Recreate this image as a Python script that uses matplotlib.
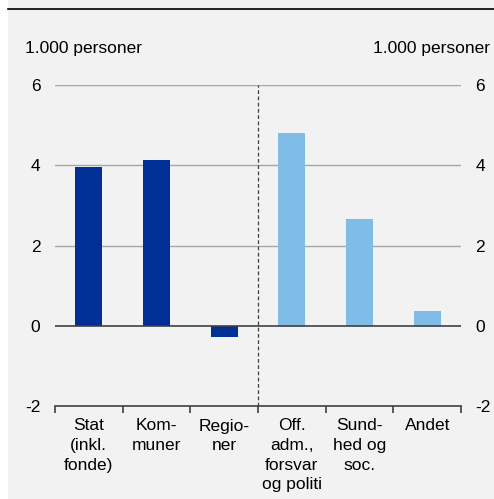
import numpy as np
import matplotlib.pyplot as plt

plt.rcParams['font.family'] = ['Liberation Sans', 'DejaVu Sans']

# ændring i beskæftigelse, 1.000 personer
categories = ["Stat\n(inkl.\nfonde)", "Kom-\nmuner", "Regio-\nner",
              "Off.\nadm.,\nforsvar\nog politi", "Sund-\nhed og\nsoc.", "Andet"]
values = [3.96, 4.12, -0.28, 4.81, 2.67, 0.38]
colors = ["#002f96", "#002f96", "#002f96", "#80bce8", "#80bce8", "#80bce8"]
yticks = [-2, 0, 2, 4, 6]

bg = "#f2f2f2"
fig = plt.figure(figsize=(4.94, 4.99), dpi=100, facecolor="white")
fig.patches.append(plt.Rectangle((8 / 494, 0), 1, 1, transform=fig.transFigure,
                                 facecolor=bg, edgecolor="none", zorder=-1))
# sort linje øverst
fig.add_artist(plt.Line2D([8 / 494, 1], [1 - 9 / 499, 1 - 9 / 499],
                          transform=fig.transFigure, color="black", lw=1.2))

ax = fig.add_axes([55 / 494, 1 - 406 / 499, 406 / 494, 321 / 499])
ax.set_facecolor(bg)

x = np.arange(len(values))
ax.bar(x, values, width=0.4, color=colors, zorder=3)

ax.set_xlim(-0.5, len(values) - 0.5)
ax.set_ylim(-2, 6)
ax.set_yticks(yticks)
ax.set_yticklabels([str(t) for t in yticks])
for t in [2, 4, 6]:
    ax.axhline(t, color="#a6a6a6", lw=1, zorder=1)
ax.axhline(0, color="#404040", lw=1.2, zorder=4)
ax.axvline(2.5, color="#404040", lw=0.9, ls=(0, (3, 2)), zorder=2)

for s in ["top", "right", "left"]:
    ax.spines[s].set_visible(False)
ax.spines["bottom"].set_color("#404040")
ax.spines["bottom"].set_linewidth(1.2)

ax.tick_params(axis="y", length=0, labelsize=12.5, pad=10.5,
               labelleft=True, labelright=True)
ax.set_xticks(x)
ax.set_xticklabels(categories, fontsize=12.5, linespacing=1.38, va="top")
ax.tick_params(axis="x", length=0, pad=9)
ax.set_xticks(np.arange(-0.5, len(values)), minor=True)
ax.tick_params(axis="x", which="minor", length=5, width=1.2, color="#404040")

fig.text(25 / 494, 1 - 48 / 499, "1.000 personer", fontsize=12.5, va="center", ha="left")
fig.text(490 / 494, 1 - 48 / 499, "1.000 personer", fontsize=12.5, va="center", ha="right")

fig.savefig("out.png", dpi=100, facecolor="white")
